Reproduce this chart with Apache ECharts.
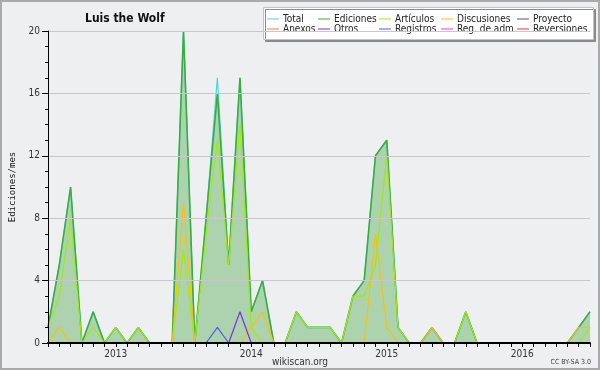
<!DOCTYPE html>
<html>
<head>
<meta charset="utf-8">
<script src="https://cdn.jsdelivr.net/npm/echarts@6/dist/echarts.min.js"></script>
<style>
html, body { margin: 0; padding: 0; background: #eeeff1; }
#chart { width: 600px; height: 370px; }
</style>
</head>
<body>
<div id="chart"></div>
<script>
var myChart = echarts.init(document.getElementById('chart'));

var fontMain = "'DejaVu Sans Condensed', 'DejaVu Sans', sans-serif";

// months Jul 2012 .. Jul 2016
var months = [
    '2012-07', '2012-08', '2012-09', '2012-10', '2012-11', '2012-12',
    '2013-01', '2013-02', '2013-03', '2013-04', '2013-05', '2013-06',
    '2013-07', '2013-08', '2013-09', '2013-10', '2013-11', '2013-12',
    '2014-01', '2014-02', '2014-03', '2014-04', '2014-05', '2014-06',
    '2014-07', '2014-08', '2014-09', '2014-10', '2014-11', '2014-12',
    '2015-01', '2015-02', '2015-03', '2015-04', '2015-05', '2015-06',
    '2015-07', '2015-08', '2015-09', '2015-10', '2015-11', '2015-12',
    '2016-01', '2016-02', '2016-03', '2016-04', '2016-05', '2016-06',
    '2016-07'
];

var total = [
    1, 5, 10, 0, 2, 0,
    1, 0, 1, 0, 0, 0, 20, 0, 8, 17, 5, 17,
    2, 4, 0, 0, 2, 1, 1, 1, 0, 3, 4, 12,
    13, 1, 0, 0, 1, 0, 0, 2, 0, 0, 0, 0,
    0, 0, 0, 0, 0, 1, 2
];
var ediciones = [
    1, 5, 10, 0, 2, 0,
    1, 0, 1, 0, 0, 0, 20, 0, 8, 16, 5, 17,
    2, 4, 0, 0, 2, 1, 1, 1, 0, 3, 4, 12,
    13, 1, 0, 0, 1, 0, 0, 2, 0, 0, 0, 0,
    0, 0, 0, 0, 0, 1, 2
];
var articulos = [
    1, 3, 8, 0, 1, 0,
    1, 0, 1, 0, 0, 0, 6, 0, 7, 13, 5, 14,
    1, 0, 0, 0, 2, 1, 1, 1, 0, 3, 3, 5,
    12, 1, 0, 0, 0, 0, 0, 2, 0, 0, 0, 0,
    0, 0, 0, 0, 0, 0, 1
];
var discusiones = [
    0, 1, 0, 0, 0, 0,
    0, 0, 0, 0, 0, 0, 9, 0, 0, 0, 0, 0,
    1, 2, 0, 0, 0, 0, 0, 0, 0, 0, 0, 7,
    1, 0, 0, 0, 1, 0, 0, 0, 0, 0, 0, 0,
    0, 0, 0, 0, 0, 1, 1
];
var otros = [
    0, 0, 0, 0, 0, 0,
    0, 0, 0, 0, 0, 0, 0, 0, 0, 0, 0, 2,
    0, 0, 0, 0, 0, 0, 0, 0, 0, 0, 0, 0,
    0, 0, 0, 0, 0, 0, 0, 0, 0, 0, 0, 0,
    0, 0, 0, 0, 0, 0, 0
];
var registros = [
    0, 0, 0, 0, 0, 0,
    0, 0, 0, 0, 0, 0, 0, 0, 0, 1, 0, 0,
    0, 0, 0, 0, 0, 0, 0, 0, 0, 0, 0, 0,
    0, 0, 0, 0, 0, 0, 0, 0, 0, 0, 0, 0,
    0, 0, 0, 0, 0, 0, 0
];
// Proyecto, Anexos, Reg. de adm., Reversiones: nothing in this period
var zeros = [
    0, 0, 0, 0, 0, 0,
    0, 0, 0, 0, 0, 0, 0, 0, 0, 0, 0, 0,
    0, 0, 0, 0, 0, 0, 0, 0, 0, 0, 0, 0,
    0, 0, 0, 0, 0, 0, 0, 0, 0, 0, 0, 0,
    0, 0, 0, 0, 0, 0, 0
];

var yTicks = [0, 4, 8, 12, 16, 20];

function lineSeries(name, data, color, width) {
    return {
        name: name,
        type: 'line',
        data: data,
        symbol: 'none',
        silent: true,
        animation: false,
        lineStyle: { color: color, width: width || 1 },
        itemStyle: { color: color }
    };
}

var series = [
    lineSeries('Total', total, '#4fd4dc', 1.2),
    {
        name: 'Ediciones',
        type: 'line',
        data: ediciones,
        symbol: 'none',
        silent: true,
        animation: false,
        lineStyle: { color: '#3aad42', width: 1.6 },
        itemStyle: { color: '#3aad42' },
        areaStyle: { color: 'rgba(60,162,58,0.52)', origin: 'start' }
    },
    lineSeries('Artículos', articulos, '#a2e812', 1.2),
    lineSeries('Discusiones', discusiones, '#f4c20e', 1.2),
    lineSeries('Proyecto', zeros, '#555555'),
    lineSeries('Anexos', zeros, '#f47a3a'),
    lineSeries('Otros', otros, '#7a2ee6', 1.2),
    lineSeries('Registros', registros, '#4f5cf0', 1.2),
    lineSeries('Reg. de adm.', zeros, '#e03ef0'),
    lineSeries('Reversiones', zeros, '#f53030')
];

var legendCols = [
    ['Total', 'Anexos'],
    ['Ediciones', 'Otros'],
    ['Artículos', 'Registros'],
    ['Discusiones', 'Reg. de adm.'],
    ['Proyecto', 'Reversiones']
];
var legendX = [267, 318, 379, 441, 517];

var legends = legendCols.map(function (col, i) {
    return {
        data: col,
        orient: 'vertical',
        left: legendX[i],
        top: 14,
        padding: 0,
        itemGap: 0,
        itemWidth: 12,
        itemHeight: 1,
        icon: 'rect',
        selectedMode: false,
        z: 5,
        textStyle: {
            fontFamily: fontMain,
            fontSize: 10,
            lineHeight: 10,
            color: '#222',
            padding: [0, 0, 0, -1]
        }
    };
});

option = {
    backgroundColor: '#eeeff1',
    animation: false,
    title: {
        text: 'Luis the Wolf',
        left: 80,
        top: 8,
        textStyle: {
            fontFamily: fontMain,
            fontSize: 12,
            fontWeight: 'bold',
            color: '#111'
        }
    },
    legend: legends,
    grid: {
        left: 47,
        right: 10,
        top: 31,
        bottom: 27
    },
    xAxis: {
        type: 'category',
        data: months,
        boundaryGap: false,
        z: 10,
        axisLine: { lineStyle: { color: '#000', width: 2 } },
        axisTick: {
            interval: 0,
            length: 4,
            lineStyle: { color: '#000' }
        },
        axisLabel: {
            interval: 0,
            margin: 6,
            fontFamily: fontMain,
            fontSize: 10,
            color: '#333',
            formatter: function (v) {
                return v.slice(5) === '01' ? v.slice(0, 4) : '';
            }
        },
        splitLine: { show: false }
    },
    yAxis: {
        type: 'value',
        min: yTicks[0],
        max: yTicks[yTicks.length - 1],
        interval: 4,
        z: 10,
        name: 'Ediciones/mes',
        nameLocation: 'middle',
        nameRotate: 90,
        nameGap: 31,
        nameTextStyle: {
            fontFamily: "'DejaVu Sans Mono', monospace",
            fontSize: 9,
            color: '#111'
        },
        axisLine: { show: true, lineStyle: { color: '#000', width: 1 } },
        axisTick: { show: true, length: 6, lineStyle: { color: '#000' } },
        minorTick: { show: true, splitNumber: 4, length: 3, lineStyle: { color: '#000' } },
        axisLabel: {
            margin: 8,
            fontFamily: fontMain,
            fontSize: 10,
            color: '#333'
        },
        splitLine: { show: true, lineStyle: { color: '#c8c8c8', width: 1 } }
    },
    graphic: [
        {
            type: 'rect',
            z: 0,
            shape: { x: 1, y: 1, width: 598, height: 368 },
            style: { fill: 'none', stroke: '#aaaaaa', lineWidth: 2 }
        },
        {
            type: 'rect',
            z: 1,
            shape: { x: 263.5, y: 7.5, width: 330, height: 32 },
            style: {
                fill: '#ffffff',
                stroke: '#c4c4c4',
                lineWidth: 1,
                shadowColor: '#8a8a8a',
                shadowOffsetX: 2,
                shadowOffsetY: 2
            }
        },
        {
            type: 'text',
            z: 1,
            x: 300,
            y: 362,
            style: {
                text: 'wikiscan.org',
                fontFamily: fontMain,
                fontSize: 10,
                fill: '#333',
                align: 'center',
                verticalAlign: 'middle'
            }
        },
        {
            type: 'text',
            z: 1,
            x: 591,
            y: 362,
            style: {
                text: 'CC BY-SA 3.0',
                fontFamily: fontMain,
                fontSize: 7,
                fill: '#444',
                align: 'right',
                verticalAlign: 'middle'
            }
        }
    ],
    series: series
};

myChart.setOption(option);
</script>
</body>
</html>
